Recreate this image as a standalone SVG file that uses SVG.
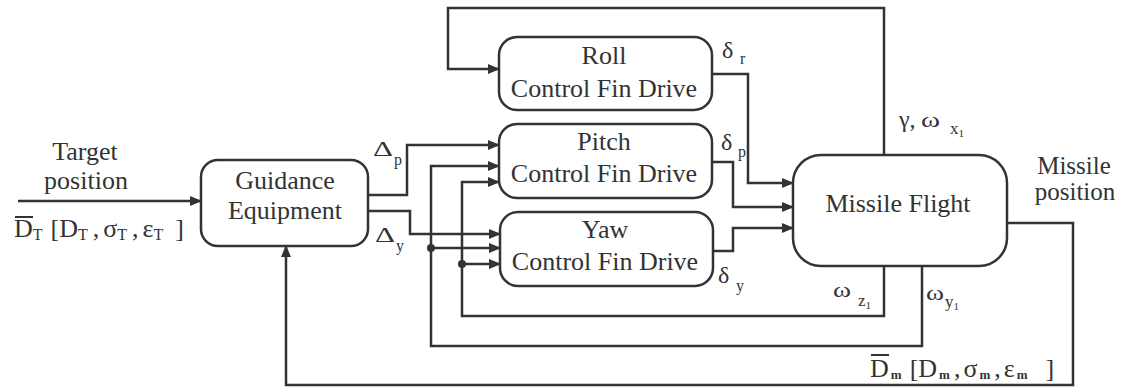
<svg xmlns="http://www.w3.org/2000/svg" width="1122" height="389" viewBox="0 0 1122 389">
<defs>
<marker id="arr" markerUnits="userSpaceOnUse" markerWidth="12" markerHeight="10" refX="11" refY="5" orient="auto">
<path d="M0,0 L12,5 L0,10 z" fill="#333"/>
</marker>
<style>
.box{fill:#fff;stroke:#333;stroke-width:2.5}
.ln{fill:none;stroke:#333;stroke-width:2.5}
.ar{marker-end:url(#arr)}
.t{font-family:"Liberation Serif","Times New Roman",serif;font-size:26px;fill:#333}
.c{text-anchor:middle}
.g{font-size:24px}
.s{font-size:16px}
.ss{font-size:11px}
.m{font-size:13px;font-weight:bold}
.dot{fill:#333}
.ov{stroke:#333;stroke-width:2}
</style>
</defs>
<rect width="1122" height="389" fill="#fff"/>
<g id="connectors">
<path class="ln ar" d="M18,201 H201"/>
<path class="ln ar" d="M884,155 V8 H448 V69 H499"/>
<path class="ln ar" d="M368,195 H407 V145 H499"/>
<path class="ln ar" d="M368,211 H410 V234 H500"/>
<path class="ln ar" d="M922,266 V346 H431 V166 H499"/>
<path class="ln ar" d="M431,248 H500"/>
<path class="ln ar" d="M884,266 V316 H462 V182 H499"/>
<path class="ln ar" d="M462,264 H500"/>
<circle class="dot" cx="431" cy="248" r="4"/>
<circle class="dot" cx="462" cy="264" r="4"/>
<path class="ln ar" d="M712,74 H748 V183 H793"/>
<path class="ln ar" d="M712,162 H733 V207 H793"/>
<path class="ln ar" d="M713,251 H733 V228 H793"/>
<path class="ln ar" d="M1007,223 H1073 V385 H286 V246"/>
</g>
<g id="guidance">
<rect class="box" x="201" y="160" width="167" height="86" rx="17"/>
<text class="t c" x="285" y="189">Guidance</text>
<text class="t c" x="285" y="219">Equipment</text>
</g>
<g id="roll">
<rect class="box" x="499" y="37" width="213" height="73" rx="18"/>
<text class="t c" x="604" y="64">Roll</text>
<text class="t c" x="604" y="97">Control Fin Drive</text>
</g>
<g id="pitch">
<rect class="box" x="499" y="124" width="213" height="74" rx="18"/>
<text class="t c" x="604" y="150">Pitch</text>
<text class="t c" x="604" y="182">Control Fin Drive</text>
</g>
<g id="yaw">
<rect class="box" x="500" y="212" width="213" height="74" rx="18"/>
<text class="t c" x="605" y="238">Yaw</text>
<text class="t c" x="605" y="270">Control Fin Drive</text>
</g>
<g id="missile-flight">
<rect class="box" x="793" y="155" width="214" height="111" rx="28"/>
<text class="t c" x="898" y="212">Missile Flight</text>
</g>
<g id="labels">
<text class="t c" x="85" y="160">Target</text>
<text class="t c" x="86" y="189">position</text>
<line class="ov" x1="15" y1="217" x2="33" y2="217"/>
<text class="t" x="14" y="237">D<tspan class="s" dy="3">T</tspan><tspan dy="-3" dx="8">[D</tspan><tspan class="s" dy="3">T</tspan><tspan dy="-3" dx="5">,</tspan><tspan dx="4">σ</tspan><tspan class="s" dy="3">T</tspan><tspan dy="-3" dx="5">,</tspan><tspan dx="4">ε</tspan><tspan class="s" dy="3">T</tspan><tspan dy="-3" dx="12">]</tspan></text>
<text class="t" x="373" y="156" style="font-size:20px" textLength="20" lengthAdjust="spacingAndGlyphs">Δ</text>
<text class="t s" x="394" y="165">p</text>
<text class="t" x="375" y="242" style="font-size:20px" textLength="20" lengthAdjust="spacingAndGlyphs">Δ</text>
<text class="t s" x="396" y="251">y</text>
<text class="t g" x="722" y="58">δ</text>
<text class="t s" x="740" y="64">r</text>
<text class="t g" x="721" y="150">δ</text>
<text class="t s" x="738" y="157">p</text>
<text class="t g" x="718" y="283">δ</text>
<text class="t s" x="736" y="291">y</text>
<text class="t g" x="899" y="127">γ,</text>
<text class="t" x="921" y="127" style="font-size:22px" textLength="19" lengthAdjust="spacingAndGlyphs">ω</text>
<text class="t" x="950" y="134" style="font-size:17px">x<tspan class="ss" dy="3">1</tspan></text>
<text class="t" x="833" y="297" style="font-size:22px" textLength="18" lengthAdjust="spacingAndGlyphs">ω</text>
<text class="t" x="858" y="306" style="font-size:17px">z<tspan class="ss" dy="3">1</tspan></text>
<text class="t" x="926" y="300" style="font-size:22px" textLength="18" lengthAdjust="spacingAndGlyphs">ω</text>
<text class="t" x="945" y="307" style="font-size:17px">y<tspan class="ss" dy="3">1</tspan></text>
<text class="t c" x="1074" y="174" style="font-size:25px">Missile</text>
<text class="t c" x="1075" y="200" style="font-size:25px">position</text>
<line class="ov" x1="871" y1="355" x2="889" y2="355"/>
<text class="t" x="870" y="377">D<tspan class="m" dy="2" dx="2">m</tspan><tspan dy="-2" dx="8">[D</tspan><tspan class="m" dy="2" dx="2">m</tspan><tspan dy="-2" dx="4">,</tspan><tspan dx="3">σ</tspan><tspan class="m" dy="2" dx="2">m</tspan><tspan dy="-2" dx="4">,</tspan><tspan dx="3">ε</tspan><tspan class="m" dy="2" dx="2">m</tspan><tspan dy="-2" dx="18">]</tspan></text>
</g>
</svg>
